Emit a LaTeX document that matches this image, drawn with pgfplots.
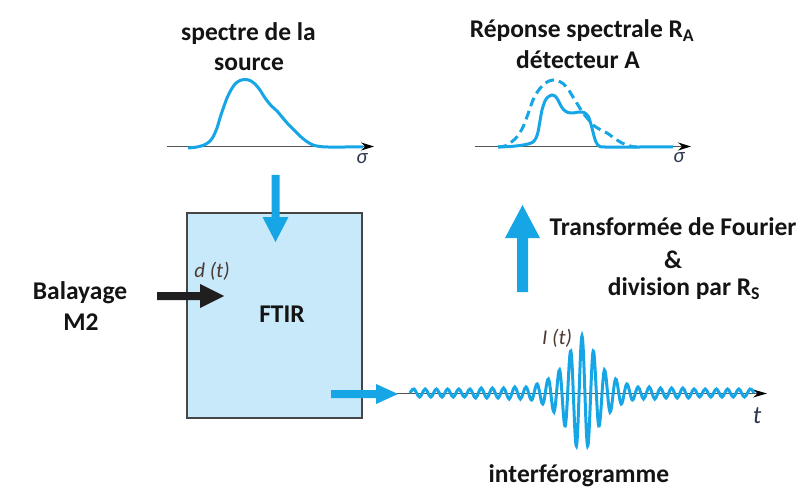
\documentclass[border=0pt]{standalone}
\usepackage{pgfplots}
\pgfplotsset{compat=1.18}
\usepackage{fontspec}
\setmainfont{Carlito}
\usetikzlibrary{arrows.meta}
\definecolor{sky}{RGB}{22,166,230}
\definecolor{boxfill}{RGB}{200,233,250}
\definecolor{boxline}{RGB}{70,70,70}
\definecolor{axgray}{RGB}{85,85,85}
\definecolor{lab}{RGB}{75,58,50}
\definecolor{sig}{RGB}{45,55,80}
\begin{document}
\begin{tikzpicture}
\begin{axis}[width=798pt,height=492pt,scale only axis,
  xmin=0,xmax=798,ymin=0,ymax=492,y dir=reverse,hide axis,clip=false]
% FTIR box
\fill[boxfill,draw=boxline,line width=1.5pt] (axis cs:187,213) rectangle (axis cs:362,418);
% axis lines
\draw[axgray,line width=1.4pt,-{Stealth[length=13pt,width=8pt,black]}] (axis cs:167,146.5) -- (axis cs:374,146.5);
\draw[axgray,line width=1.4pt,-{Stealth[length=13pt,width=8pt,black]}] (axis cs:475,146.5) -- (axis cs:691,146.5);
\draw[axgray,line width=1.4pt,-{Stealth[length=14pt,width=8pt,black]}] (axis cs:395,393.5) -- (axis cs:767,393.5);
% source spectrum
\addplot[sky,line width=3pt,smooth,tension=0.5] coordinates {
(188,148) (197,147) (204,145) (209,142) (213,137) (217,128) (220,118) (223,109) (227,98) (231,90) (235,84) (240,80.5) (245,79.5) (250,80.5) (255,84) (260,90) (264,96.5) (268,102) (272,106.5) (277,111) (282,117) (288,124) (294,130) (300,136) (306,141) (313,145) (320,146.5) (328,147) (345,147) (363,147)};
% detector response dashed
\addplot[sky,line width=3pt,smooth,tension=0.5,dash pattern=on 9pt off 5pt] coordinates {
(498,147) (505,146) (510,143) (515,139) (519,134) (523,127) (528,114) (533,100) (538,91) (543,85) (548,81.5) (553,80) (558,81) (563,83.5) (568,89) (573,97) (578,105) (583,113) (588,119) (593,125) (600,129.5) (607,133) (612,136.5) (617,140) (622,143) (627,145) (632,146.5) (637,147)};
% detector response solid
\addplot[sky,line width=3pt,smooth,tension=0.5] coordinates {
(498,147) (510,146.5) (520,145.5) (528,144) (533,142) (536,138) (538,132) (540,121) (542,110) (545,101) (548,97) (552,95) (555,96) (558,100) (561,106) (564,110) (568,112.5) (573,113) (579,112) (584,112.5) (588,116) (590,121) (592,128) (594,136) (596,142) (599,146) (605,147) (640,147) (673,147)};
% interferogram
\addplot[sky,line width=3pt,smooth,tension=0.6] coordinates {
(410,393) (414.0,389) (419.6,397) (425.2,389) (430.8,397) (436.4,389) (442.0,397) (447.6,389) (453.2,397) (458.8,389) (464.4,397) (470.0,389) (475.6,398) (481.2,388) (486.8,398) (492.4,388) (498.0,398) (503.6,388) (509.2,399) (514.8,387) (520.4,399) (526.0,387) (531.6,400) (537.2,384) (542.8,404) (548.4,379) (554.0,412) (559.6,370) (565.2,426) (570.8,351) (576.4,446) (582.0,336) (587.6,446) (593.2,351) (598.8,426) (604.4,370) (610.0,412) (615.6,379) (621.2,404) (626.8,384) (632.4,400) (638.0,387) (643.6,399) (649.2,387) (654.8,399) (660.4,388) (666.0,398) (671.6,388) (677.2,398) (682.8,388) (688.4,398) (694.0,389) (699.6,397) (705.2,389) (710.8,397) (716.4,389) (722.0,397) (727.6,389) (733.2,397) (738.8,389) (744.4,397) (750.0,389) (754,393)};
% block arrows
\fill[sky] (axis cs:271.5,175) -- (axis cs:279.5,175) -- (axis cs:279.5,217) -- (axis cs:288.5,217) -- (axis cs:275.5,242) -- (axis cs:262.5,217) -- (axis cs:271.5,217) -- cycle;
\fill[sky] (axis cs:331,390) -- (axis cs:376,390) -- (axis cs:376,384) -- (axis cs:398,394) -- (axis cs:376,404) -- (axis cs:376,398) -- (axis cs:331,398) -- cycle;
\fill[sky] (axis cs:517,292) -- (axis cs:517,238) -- (axis cs:505,238) -- (axis cs:522.5,205) -- (axis cs:540,238) -- (axis cs:528,238) -- (axis cs:528,292) -- cycle;
\fill[black!88] (axis cs:157,292) -- (axis cs:200,292) -- (axis cs:200,284) -- (axis cs:224,296) -- (axis cs:200,308) -- (axis cs:200,300) -- (axis cs:157,300) -- cycle;
% texts
\begin{scope}[every node/.style={font=\fontsize{25.5}{30}\selectfont\bfseries,text=black!92,inner sep=0pt}]
\node at (axis cs:248.5,34) {spectre de la};
\node at (axis cs:249,64) {source};
\node at (axis cs:582,31) {Réponse spectrale R\textsubscript{A}};
\node at (axis cs:578,60) {détecteur A};
\node at (axis cs:673,227) {Transformée de Fourier};
\node at (axis cs:673,260) {\&};
\node at (axis cs:684,289) {division par R\textsubscript{S}};
\node at (axis cs:80,293) {Balayage};
\node at (axis cs:81,322) {M2};
\node at (axis cs:282,314) {FTIR};
\node at (axis cs:579,476) {interférogramme};
\end{scope}
\begin{scope}[every node/.style={font=\fontsize{21}{24}\selectfont\itshape,inner sep=0pt}]
\node[text=lab] at (axis cs:212,271) {d (t)};
\node[text=lab] at (axis cs:557,338) {I (t)};
\node[text=sig] at (axis cs:362,159) {σ};
\node[text=sig] at (axis cs:679,158) {σ};
\node[text=sig,font=\fontsize{25}{28}\selectfont\itshape] at (axis cs:757,416) {t};
\end{scope}
\end{axis}
\pgfresetboundingbox
\path (0,0) rectangle (798pt,492pt);
\end{tikzpicture}
\end{document}
